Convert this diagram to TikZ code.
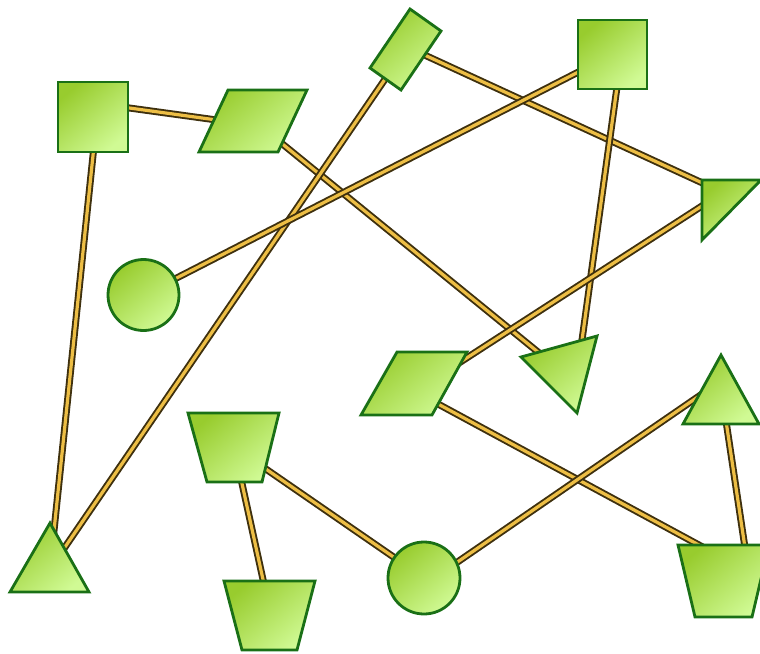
\documentclass[tikz,border=0pt]{standalone}
\usetikzlibrary{calc}
\definecolor{edgegold}{HTML}{EDBE45}
\definecolor{edgedark}{HTML}{3E300E}
\definecolor{shapeline}{HTML}{1A7016}
\definecolor{greendark}{HTML}{98CC2E}
\definecolor{greenlight}{HTML}{D0FA94}
\tikzset{
  link/.style={draw=edgedark, line width=1.9pt, double=edgegold, double distance=3.2pt},
  blob/.style={draw=shapeline, line width=2.8pt, line join=miter,
    shading=axis, top color=greendark, bottom color=greenlight, shading angle=40},
}
\begin{document}
\begin{tikzpicture}[x=1pt, y=-1pt]
\useasboundingbox (0,0) rectangle (760,653);
% node centres
\coordinate (A) at (93,117);
\coordinate (B) at (253,121);
\coordinate (C) at (405,50);
\coordinate (D) at (612.5,54.5);
\coordinate (E) at (722,200);
\coordinate (F) at (143.5,295);
\coordinate (G) at (414,383);
\coordinate (H) at (565,369);
\coordinate (I) at (721,401);
\coordinate (J) at (234,447);
\coordinate (K) at (50,569);
\coordinate (L) at (269,616);
\coordinate (M) at (424,578);
\coordinate (N) at (723,581);
% connectors
\draw[link] ([shift={(0,-14)}]A) -- ([shift={(0,4)}]B);
\draw[link] ([shift={(4,0)}]A) -- (K);
\draw[link] ([shift={(0,-1)}]B) -- ([shift={(0,5)}]H);
\draw[link] (C) -- (K);
\draw[link] ([shift={(0,-4)}]C) -- ([shift={(0,-8)}]E);
\draw[link] (D) -- (F);
\draw[link] ([shift={(9,0)}]D) -- ([shift={(13,0)}]H);
\draw[link] ([shift={(0,-7)}]E) -- ([shift={(0,9)}]G);
\draw[link] ([shift={(0,8)}]G) -- ([shift={(0,-23)}]N);
\draw[link] (J) -- (M);
\draw[link] (J) -- ([shift={(2,0)}]L);
\draw[link] ([shift={(0,7)}]M) -- ([shift={(0,-20)}]I);
\draw[link] ([shift={(2,0)}]I) -- ([shift={(27,0)}]N);
% shapes
\path[blob] (58,82) rectangle (128,152);
\path[blob] (228,90) -- (307,90) -- (278,152) -- (199,152) -- cycle;
\path[blob] (410,9) -- (441,31) -- (401,90) -- (370,68) -- cycle;
\path[blob] (578,20) rectangle (647,89);
\path[blob] (702,180) -- (761,180) -- (702,240) -- cycle;
\path[blob] (F) circle[radius=35.5];
\path[blob] (397,352) -- (467,352) -- (432,415) -- (361,415) -- cycle;
\path[blob] (521,357) -- (597,336) -- (577,413) -- cycle;
\path[blob] (721,355) -- (759,424) -- (683,424) -- cycle;
\path[blob] (188,413) -- (279,413) -- (262,482) -- (207,482) -- cycle;
\path[blob] (50,523) -- (89,592) -- (10,592) -- cycle;
\path[blob] (224,581) -- (315,581) -- (297,650) -- (242,650) -- cycle;
\path[blob] (M) circle[radius=36];
\path[blob] (678,545) -- (769,545) -- (752,617) -- (695,617) -- cycle;
\end{tikzpicture}
\end{document}
